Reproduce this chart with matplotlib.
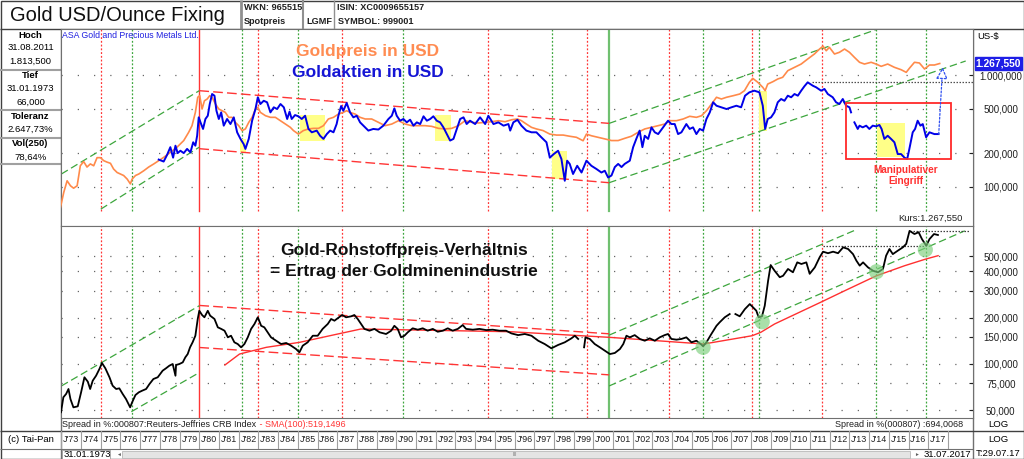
"""Gold USD/Ounce Fixing vs. ASA gold shares, plus gold/CRB ratio panel (Tai-Pan style)."""

import matplotlib
matplotlib.use("Agg")
import matplotlib.pyplot as plt
from matplotlib.patches import Rectangle
from matplotlib.ticker import NullLocator, NullFormatter

plt.rcParams["font.family"] = ["Liberation Sans", "DejaVu Sans"]

W, H = 1024, 459
NAN = float("nan")

# --------------------------------------------------------------------------- #
#  Data
# --------------------------------------------------------------------------- #
GOLD_YEAR = [
    1972.95, 1973.12, 1973.29, 1973.46, 1973.62, 1973.80, 1973.96, 1974.13, 1974.30, 1974.47,
    1974.64, 1974.81, 1974.98, 1975.15, 1975.32, 1975.49, 1975.65, 1975.83, 1975.99, 1976.16,
    1976.34, 1976.50, 1976.59, 1976.76, 1976.93, 1977.18, 1977.43, 1977.69, 1977.94, 1978.19,
    1978.53, 1978.87, 1979.21, 1979.46, 1979.63, 1979.80, 1979.92, 1980.02, 1980.14, 1980.26,
    1980.40, 1980.53, 1980.65, 1980.82, 1980.99, 1981.16, 1981.32, 1981.49, 1981.66, 1981.83,
    1982.00, 1982.17, 1982.34, 1982.51, 1982.68, 1982.85, 1982.97, 1983.10, 1983.36, 1983.61,
    1983.86, 1984.12, 1984.37, 1984.62, 1984.78, 1985.03, 1985.28, 1985.54, 1985.79, 1986.05,
    1986.30, 1986.55, 1986.81, 1987.06, 1987.31, 1987.48, 1987.65, 1987.91, 1988.16, 1988.42,
    1988.75, 1989.09, 1989.43, 1989.77, 1990.11, 1990.45, 1990.78, 1991.12, 1991.46, 1991.80,
    1992.14, 1992.48, 1992.81, 1993.15, 1993.49, 1993.83, 1994.17, 1994.51, 1994.84, 1995.18,
    1995.52, 1995.86, 1996.15, 1996.35, 1996.60, 1996.86, 1997.11, 1997.45, 1997.79, 1998.13,
    1998.47, 1998.80, 1999.14, 1999.48, 1999.65, 1999.90, 2000.24, 2000.58, 2000.92, 2001.26,
    2001.59, 2001.93, 2002.27, 2002.61, 2002.95, 2003.29, 2003.62, 2003.88, 2004.22, 2004.56,
    2004.89, 2005.23, 2005.49, 2005.74, 2006.00, 2006.25, 2006.50, 2006.76, 2007.10, 2007.43,
    2007.67, 2007.92, 2008.09, 2008.35, 2008.60, 2008.72, 2008.85, 2009.11, 2009.36, 2009.61,
    2009.87, 2010.21, 2010.55, 2010.88, 2011.22, 2011.48, 2011.66, 2011.82, 2011.98, 2012.24,
    2012.49, 2012.75, 2013.00, 2013.25, 2013.51, 2013.76, 2014.10, 2014.35, 2014.61, 2014.94,
    2015.28, 2015.62, 2015.88, 2016.04, 2016.30, 2016.55, 2016.81, 2017.06, 2017.31, 2017.58,
]
GOLD_USD = [
    65, 89, 113, 102, 97, 102, 154, 168, 150, 160,
    154, 182, 182, 171, 166, 162, 144, 134, 130, 126,
    117, 106, 117, 126, 130, 139, 150, 160, 171, 183,
    203, 226, 259, 307, 352, 463, 632, 653, 496, 588,
    610, 653, 632, 550, 496, 479, 463, 418, 418, 377,
    352, 318, 329, 377, 418, 496, 514, 463, 432, 418,
    418, 390, 364, 340, 318, 296, 318, 329, 333, 333,
    352, 404, 418, 447, 463, 479, 463, 447, 418, 404,
    404, 377, 352, 364, 390, 364, 352, 352, 352, 347,
    333, 329, 333, 352, 390, 377, 372, 377, 382, 390,
    382, 398, 404, 390, 364, 340, 329, 318, 296, 290,
    290, 283, 277, 258, 296, 286, 277, 268, 259, 259,
    271, 283, 307, 329, 340, 352, 364, 390, 390, 404,
    427, 418, 432, 479, 550, 632, 610, 632, 653, 676,
    724, 860, 934, 860, 776, 724, 830, 871, 921, 954,
    1094, 1172, 1254, 1391, 1542, 1708, 1813, 1650, 1770, 1542,
    1597, 1708, 1597, 1440, 1300, 1254, 1300, 1254, 1196, 1254,
    1172, 1116, 1057, 1148, 1300, 1281, 1132, 1229, 1229, 1267.55,
]

ASA_YEAR = [
    1977.94, 1978.19, 1978.36, 1978.53, 1978.67, 1978.79, 1978.90, 1979.04, 1979.21, 1979.38,
    1979.55, 1979.69, 1979.80, 1979.89, 1979.97, 1980.06, 1980.19, 1980.31, 1980.43, 1980.53,
    1980.65, 1980.77, 1980.87, 1980.99, 1981.11, 1981.24, 1981.41, 1981.58, 1981.75, 1981.92,
    1982.09, 1982.25, 1982.34, 1982.51, 1982.68, 1982.85, 1982.97, 1983.10, 1983.27, 1983.44,
    1983.61, 1983.78, 1983.95, 1984.12, 1984.29, 1984.46, 1984.58, 1984.69, 1984.86, 1985.03,
    1985.20, 1985.37, 1985.54, 1985.71, 1985.96, 1986.13, 1986.30, 1986.47, 1986.64, 1986.81,
    1986.97, 1987.06, 1987.20, 1987.31, 1987.48, 1987.65, 1987.82, 1987.99, 1988.16, 1988.33,
    1988.58, 1988.83, 1989.09, 1989.34, 1989.60, 1989.77, 1989.90, 1990.02, 1990.19, 1990.36,
    1990.53, 1990.70, 1990.87, 1991.04, 1991.21, 1991.38, 1991.55, 1991.72, 1991.88, 1992.05,
    1992.22, 1992.39, 1992.56, 1992.73, 1992.90, 1993.07, 1993.24, 1993.41, 1993.57, 1993.74,
    1994.00, 1994.25, 1994.51, 1994.67, 1994.93, 1995.18, 1995.44, 1995.69, 1995.78, 1995.94,
    1996.15, 1996.35, 1996.60, 1996.86, 1997.11, 1997.36, 1997.62, 1997.79, 1997.99, 1998.21,
    1998.38, 1998.55, 1998.67, 1998.80, 1998.97, 1999.18, 1999.40, 1999.65, 1999.90, 2000.16,
    2000.41, 2000.58, 2000.75, 2000.92, 2001.09, 2001.26, 2001.43, 2001.59, 2001.85, 2002.02,
    2002.18, 2002.35, 2002.49, 2002.61, 2002.78, 2002.95, 2003.12, 2003.29, 2003.54, 2003.79,
    2003.96, 2004.13, 2004.30, 2004.47, 2004.72, 2004.89, 2005.06, 2005.23, 2005.40, 2005.57,
    2005.74, 2005.91, 2006.08, 2006.25, 2006.50, 2006.76, 2007.01, 2007.26, 2007.50, 2007.70,
    2007.92, 2008.17, 2008.43, 2008.60, 2008.72, 2008.85, 2009.02, 2009.19, 2009.36, 2009.53,
    2009.70, 2009.87, 2010.04, 2010.21, 2010.38, 2010.55, 2010.71, 2010.88, 2011.14, 2011.31,
    2011.56, 2011.73, 2011.90, 2012.15, 2012.32, 2012.49, 2012.66, 2012.83, 2013.00, 2013.08,
    2013.16, 2013.25, 2013.42, 2013.51, 2013.67, 2013.85, 2014.01, 2014.18, 2014.35, 2014.52,
    2014.63, 2014.77, 2014.94, 2015.11, 2015.28, 2015.45, 2015.62, 2015.79, 2015.93, 2016.04,
    2016.21, 2016.33, 2016.46, 2016.60, 2016.72, 2016.89, 2017.06, 2017.31, 2017.52,
]
ASA_USD = [
    175, 168, 192, 226, 182, 233, 200, 210, 200, 218,
    203, 250, 233, 286, 418, 377, 329, 404, 432, 550,
    676, 653, 479, 404, 463, 352, 404, 364, 418, 307,
    268, 241, 218, 268, 390, 496, 632, 550, 588, 570,
    463, 514, 496, 550, 514, 404, 470, 404, 438, 427,
    404, 432, 329, 307, 318, 286, 268, 296, 318, 307,
    364, 432, 528, 479, 562, 463, 418, 432, 377, 352,
    318, 329, 325, 352, 404, 432, 503, 432, 390, 404,
    377, 398, 352, 377, 364, 427, 390, 404, 427, 390,
    377, 340, 296, 259, 268, 329, 404, 418, 364, 390,
    364, 418, 364, 432, 364, 377, 352, 364, 318, 377,
    397, 352, 318, 307, 307, 277, 250, 182, 196, 210,
    177, 113, 171, 160, 130, 154, 134, 171, 154, 144,
    134, 139, 121, 126, 150, 160, 150, 160, 171, 226,
    268, 318, 226, 286, 268, 340, 307, 296, 340, 390,
    364, 364, 296, 307, 364, 329, 340, 296, 329, 318,
    404, 463, 570, 531, 514, 496, 514, 531, 514, 653,
    700, 724, 700, 531, 329, 404, 418, 463, 570, 610,
    588, 653, 632, 676, 653, 724, 792, 860, 802, 776,
    724, 750, 676, 632, 570, 550, 610, 531, 514, 463,
    NAN, 377, 329, 352, 340, 352, 329, 352, 347, 357,
    329, 268, 286, 268, 250, 196, 196, 182, 177, 218,
    307, 329, 390, 352, 364, 277, 307, 296, 296,
]
LAST_PRICE = 1267.55

RATIO_YEAR = [
    1972.98, 1973.10, 1973.24, 1973.36, 1973.46, 1973.61, 1973.83, 1974.00, 1974.17, 1974.34,
    1974.46, 1974.59, 1974.76, 1974.93, 1975.06, 1975.23, 1975.44, 1975.60, 1975.78, 1975.94,
    1976.11, 1976.28, 1976.49, 1976.59, 1976.76, 1976.93, 1977.10, 1977.30, 1977.47, 1977.67,
    1977.89, 1978.14, 1978.31, 1978.48, 1978.65, 1978.79, 1978.82, 1978.99, 1979.16, 1979.29,
    1979.41, 1979.53, 1979.66, 1979.80, 1979.92, 1980.00, 1980.14, 1980.26, 1980.43, 1980.55,
    1980.77, 1980.94, 1981.11, 1981.28, 1981.45, 1981.61, 1981.78, 1981.95, 1982.12, 1982.29,
    1982.46, 1982.63, 1982.80, 1982.97, 1983.14, 1983.30, 1983.47, 1983.64, 1983.90, 1984.15,
    1984.41, 1984.66, 1984.91, 1985.08, 1985.25, 1985.50, 1985.76, 1986.01, 1986.26, 1986.52,
    1986.69, 1986.86, 1987.02, 1987.25, 1987.45, 1987.71, 1987.87, 1988.04, 1988.21, 1988.38,
    1988.64, 1988.89, 1989.15, 1989.48, 1989.74, 1989.90, 1990.07, 1990.24, 1990.41, 1990.58,
    1990.83, 1991.09, 1991.34, 1991.59, 1991.85, 1992.10, 1992.36, 1992.61, 1992.86, 1993.12,
    1993.37, 1993.54, 1993.88, 1994.22, 1994.56, 1994.89, 1995.23, 1995.57, 1995.84, 1996.18,
    1996.52, 1996.86, 1997.20, 1997.53, 1997.87, 1998.21, 1998.55, 1998.89, 1999.06, 1999.23,
    1999.38, 1999.53, 1999.60, 1999.82, 2000.07, 2000.33, 2000.58, 2000.84, 2001.09, 2001.35,
    2001.52, 2001.68, 2001.85, 2002.10, 2002.36, 2002.61, 2002.86, 2003.12, 2003.37, 2003.62,
    2003.79, 2003.96, 2004.22, 2004.47, 2004.72, 2004.98, 2005.23, 2005.45, 2005.57, 2005.74,
    2005.99, 2006.25, 2006.41, 2006.67, 2006.92, 2007.05, 2007.21, 2007.43, 2007.69, 2007.94,
    2008.11, 2008.27, 2008.39, 2008.56, 2008.70, 2008.87, 2009.00, 2009.20, 2009.46, 2009.63,
    2009.88, 2010.13, 2010.35, 2010.56, 2010.81, 2010.98, 2011.24, 2011.49, 2011.66, 2011.91,
    2012.17, 2012.42, 2012.68, 2012.93, 2013.18, 2013.35, 2013.52, 2013.69, 2013.94, 2014.20,
    2014.45, 2014.70, 2014.86, 2015.03, 2015.20, 2015.46, 2015.71, 2015.88, 2016.05, 2016.30,
    2016.51, 2016.68, 2016.90, 2017.06, 2017.29, 2017.49,
]
RATIO = [
    48.6, 60.8, 63.9, 68.8, 59.2, 52.3, 53.1, 65.5, 82.0, 76.8,
    68.8, 77.9, 83.9, 92.8, 101.5, 93.8, 82.0, 72.3, 68.8, 69.5,
    63.9, 59.2, 52.3, 56.4, 62.9, 65.5, 67.1, 68.8, 74.1, 79.9,
    82.0, 90.5, 93.8, 97.5, 100, 83.9, 98.5, 100, 102.5, 110.5,
    116, 128.3, 138.3, 152.6, 196, 221.6, 208, 201, 221.6, 206,
    196, 173, 169, 164.5, 149, 152.6, 138.3, 134.8, 128.3, 134.8,
    149, 169, 181.9, 201, 177, 173, 160.6, 149, 141.6, 134.8,
    136.9, 131.5, 125.1, 119, 131.5, 138.3, 152.6, 152.6, 169, 181.9,
    196, 191, 198, 208, 201, 204, 208, 196, 181.9, 169,
    164.5, 169, 160.6, 156.6, 164.5, 177, 169, 149, 152.6, 160.6,
    170.5, 167, 170.5, 164.5, 169, 162, 164.5, 170.5, 164.5, 169,
    179, 169, 167, 169, 166, 167, 164.5, 164.5, 158, 154,
    156.6, 152.6, 141.6, 134.8, 126.4, 132.9, 138.3, 146.8, 152.6, 145.4,
    NAN, 128.3, 149, 145.4, 134.8, 128.3, 122, 116, 117.9, 125.1,
    134.8, 152.6, 149, 154, 145.4, 141.6, 146.8, 141.6, 149, 154,
    156.6, 145.4, 143.9, 145.4, 149, 138.3, 141.6, 134.8, 130.3, 138.3,
    156.6, 177, 186.4, 201, 211, NAN, 211, 204, 227, 245,
    233, 222, 201, 204, 239, 347, 439, 403, 366, 374,
    414, 394, 457, 446, 457, 385, 424, 494, 536, 524,
    536, 524, 572, 558, 517, 469, 435, 457, 424, 403,
    394, 414, 505, 558, 517, 545, 572, 602, 732, 698,
    717, 647, 585, 647, 698, 688,
]
LAST_RATIO = 694.0068
SMA_LAST = 519.1496

SMA_YEAR = [1981.3, 1982.04, 1983.4, 1985.1, 1986.77, 1988.2, 1995.8, 2000.8, 2005.6,
            2008.06, 2008.5, 2009.2, 2011.6, 2012.76, 2014.37, 2015.8, 2016.87, 2017.5]
SMA = [98.5, 116, 128.3, 138.3, 154, 168.7, 162, 149, 134.8,
       152.6, 160.6, 181.9, 253.8, 299, 374, 434.6, 480, 505]

# trend channels: (years, values)
UP_RED_CHANNEL = [([1980.0, 2000.8], [724, 369]), ([1980.0, 2000.8], [219, 108.6])]
UP_GREEN_CHANNEL = [([1973.0, 1980.0], [130, 724]), ([1975.0, 1980.0], [63, 226]),
                    ([2000.8, 2014.4], [369, 2564]), ([2000.8, 2018.9], [108.6, 1335])]
LO_RED_CHANNEL = [([1980.0, 2000.8], [240, 157]), ([1980.0, 2000.8], [128, 85])]
LO_GREEN_CHANNEL = [([1973.0, 1980.0], [72, 239]), ([1976.55, 1980.0], [49, 88]),
                    ([2000.8, 2013.4], [154, 750]), ([2000.8, 2018.85], [72, 732])]

# highlighted zones: (year from, year to, value low, value high)
YELLOW_ZONES = [(1982.09, 1982.36, 203, 268), (1985.12, 1986.39, 256, 438),
                (1991.97, 1992.78, 258, 438), (1997.92, 1998.67, 117, 210),
                (2008.43, 2008.82, 318, 724), (2014.41, 2015.83, 183, 369)]
MANIP_BOX = (2012.83, 2018.16, 177, 562)
ARROW_YEAR = [2017.53, 2017.73]
ARROW_VAL = [296, 1172]
UP_DOTTED = ([2011.09, 2019.27], [860, 860])
LO_DOTTED = [([2011.65, 2016.85], [581, 581]), ([2016.09, 2019.06], [732, 732])]
CIRCLE_YEAR = [2005.57, 2008.57, 2014.37, 2016.85]
CIRCLE_VAL = [128.3, 188, 397.5, 552]

VLINES_RED_DOT = [1975.0, 1982.97, 1987.25, 1994.67, 1999.68, 2003.83, 2008.06, 2011.61]
VLINES_GREEN_DOT = [1976.57, 1982.15, 1985.03, 1990.33, 1997.9, 2005.59, 2008.4, 2014.37, 2016.87]
VLINE_RED_SOLID = 1979.97
VLINE_GREEN_SOLID = 2000.8

UP_TICKS = [100, 200, 500, 1000]
UP_TICK_LABELS = ["100,000", "200,000", "500,000", "1.000,000"]
LO_TICKS = [50, 75, 100, 150, 200, 300, 400, 500]
LO_TICK_LABELS = ["50,000", "75,000", "100,000", "150,000", "200,000",
                  "300,000", "400,000", "500,000"]
YEARS = list(range(1973, 2018))

INFO = [("Hoch", "31.08.2011", "1.813,500"), ("Tief", "31.01.1973", "66,000"),
        ("Toleranz", "2.647,73%", None), ("Vol(250)", "78,64%", None)]

X_LIM = (1972.98, 2019.27)
UP_YLIM = (44.5, 2582)
LO_YLIM = (44.6, 787)

ORANGE = "#FF8A4A"
BLUE = "#0000E8"
RED = "#FF3535"
GREEN = "#3DA63D"
FRAME = "#707070"


# --------------------------------------------------------------------------- #
#  Helpers
# --------------------------------------------------------------------------- #
def px_axes(fig, x0, y0, x1, y1, **kw):
    return fig.add_axes([x0 / W, 1 - y1 / H, (x1 - x0) / W, (y1 - y0) / H], **kw)


def setup_price_axis(ax, ylim, ticks, labels):
    ax.set_yscale("log")
    ax.set_xlim(*X_LIM)
    ax.set_ylim(*ylim)
    ax.set_xticks([])
    ax.yaxis.tick_right()
    ax.set_yticks(ticks)
    ax.set_yticklabels(labels)
    ax.yaxis.set_minor_locator(NullLocator())
    ax.yaxis.set_minor_formatter(NullFormatter())
    ax.tick_params(axis="y", direction="in", length=3, pad=20,
                   labelsize=7, colors="#202020")
    plt.setp(ax.get_yticklabels(), ha="center")
    for s in ax.spines.values():
        s.set_color(FRAME)
        s.set_linewidth(0.8)
    for v in ticks:
        ax.axhline(v, ls=(0, (1, 12)), color="#666666", lw=0.9, zorder=0.5)


def draw_vlines(ax, ymin):
    for yr in VLINES_RED_DOT:
        ax.axvline(yr, ymin=ymin, color=RED, ls=(0, (1.5, 1.5)), lw=0.9, zorder=1)
    for yr in VLINES_GREEN_DOT:
        ax.axvline(yr, ymin=ymin, color=GREEN, ls=(0, (1.5, 1.5)), lw=0.9, zorder=1)
    ax.axvline(VLINE_RED_SOLID, ymin=ymin, color=RED, lw=1.0, zorder=1)
    ax.axvline(VLINE_GREEN_SOLID, ymin=ymin, color="#70C070", lw=1.6, zorder=1)


def draw_channels(ax, red, green):
    for xs, ys in red:
        ax.plot(xs, ys, color=RED, ls=(0, (7, 3)), lw=1.0, zorder=2)
    for xs, ys in green:
        ax.plot(xs, ys, color=GREEN, ls=(0, (6, 3)), lw=0.9, zorder=2)


def line(ch, x0, y0, x1, y1, color=FRAME, lw=0.8):
    ch.plot([x0, x1], [y0, y1], color=color, lw=lw, solid_capstyle="butt")


# --------------------------------------------------------------------------- #
#  Chrome (header, info column, footer)
# --------------------------------------------------------------------------- #
def draw_chrome(ch):
    ch.set_xlim(0, W)
    ch.set_ylim(H, 0)
    ch.axis("off")

    # header
    ch.text(10, 15.5, "Gold USD/Ounce Fixing", fontsize=14.5, va="center", color="#101010")
    kw = dict(fontsize=6.6, fontweight="bold", va="center", color="#202020")
    ch.text(244, 7, "WKN: 965515", **kw)
    ch.text(244, 21, "Spotpreis", **kw)
    ch.text(306, 21, "LGMF", **kw)
    ch.text(337, 7, "ISIN: XC0009655157", **kw)
    ch.text(338, 21, "SYMBOL: 999001", **kw)
    line(ch, 0, 29, W, 29, "#404040", 1.0)
    line(ch, 241, 0, 241, 29, "#909090", 2.0)
    line(ch, 302.5, 0, 302.5, 29, "#909090", 1.5)
    line(ch, 333.5, 0, 333.5, 29, "#909090", 1.0)
    ch.add_patch(Rectangle((0.5, 0.5), W - 1, H - 1, fill=False, ec="#404040", lw=1.0))

    # info column
    rows = [35, 75.5, 116.5, 144]
    for (head, l1, l2), y in zip(INFO, rows):
        ch.text(30.5, y, head, fontsize=6.8, fontweight="bold", ha="center", va="center")
        ch.text(30.5, y + 13, l1, fontsize=6.8, ha="center", va="center")
        if l2:
            ch.text(30.5, y + 26.5, l2, fontsize=6.8, ha="center", va="center")
    for y in (70, 109.5, 137.5, 164):
        line(ch, 0, y, 61, y, "#A0A0A0", 1.5)
    line(ch, 61, 29, 61, H, FRAME, 1.0)
    line(ch, 973, 29, 973, H, FRAME, 1.0)

    # footer rows
    line(ch, 0, 431, W, 431, "#404040", 1.0)
    line(ch, 0, 449, 973, 449, FRAME, 0.8)
    ch.text(30.5, 439.5, "(c) Tai-Pan", fontsize=6.8, ha="center", va="center")
    ch.text(998.5, 424.5, "LOG", fontsize=6.8, ha="center", va="center")
    ch.text(998.5, 439, "LOG", fontsize=6.8, ha="center", va="center")
    ch.text(998.5, 453, "T:29.07.17", fontsize=6.8, ha="center", va="center")
    ch.add_patch(Rectangle((62, 450), 48, 8.5, fc="white", ec="#A0A0A0", lw=0.6))
    ch.text(64, 454.5, "31.01.1973", fontsize=6.8, va="center")
    ch.text(116, 454.5, "\u25c4", fontsize=3.5, va="center", color="#606060")
    ch.add_patch(Rectangle((122, 450.5), 788, 7.5, fc="#E4E4E4", ec="#B8B8B8", lw=0.6))
    ch.text(515, 454.5, "III", fontsize=4, va="center", ha="center", color="#808080")
    ch.text(914, 454.5, "\u25ba", fontsize=3.5, va="center", color="#606060")
    ch.text(971.5, 454.5, "31.07.2017", fontsize=6.8, va="center", ha="right")

    # spread captions under the ratio panel
    t = ch.text(62.5, 424.5, "Spread in %:000807:Reuters-Jeffries CRB Index",
                fontsize=6.5, va="center", color="#202020")
    ch.annotate(f" - SMA(100):{SMA_LAST:.4f}".replace(".", ","), xy=(1, 0.5),
                xycoords=t, va="center", fontsize=6.5, color=RED)
    ch.text(963, 424.5, f"Spread in %(000807) :{LAST_RATIO:.4f}".replace(".", ","),
            fontsize=6.5, va="center", ha="right", color="#202020")
    ch.add_patch(Rectangle((963.5, 226.5), 8.5, 8.5, fc="white", ec="#303030", lw=0.7, zorder=5))
    ch.text(967.8, 230.8, "\u00d7", fontsize=6.5, ha="center", va="center", zorder=6)


# --------------------------------------------------------------------------- #
#  Panels
# --------------------------------------------------------------------------- #
def draw_upper(ax):
    setup_price_axis(ax, UP_YLIM, UP_TICKS, UP_TICK_LABELS)
    draw_vlines(ax, ymin=0.076)
    draw_channels(ax, UP_RED_CHANNEL, UP_GREEN_CHANNEL)

    for x0, x1, lo, hi in YELLOW_ZONES:
        ax.add_patch(Rectangle((x0, lo), x1 - x0, hi - lo, fc="#FFFF88", ec="none", zorder=1.5))
    x0, x1, lo, hi = MANIP_BOX
    ax.add_patch(Rectangle((x0, lo), x1 - x0, hi - lo, fill=False, ec="#FF2A2A", lw=1.3, zorder=4))

    ax.plot(GOLD_YEAR, GOLD_USD, color=ORANGE, lw=1.2, zorder=3)
    ax.plot(ASA_YEAR, ASA_USD, color=BLUE, lw=1.4, zorder=3.5)
    ax.plot(*UP_DOTTED, color="#505050", ls=(0, (1.2, 1.2)), lw=0.9, zorder=2)
    ax.annotate("", xy=(ARROW_YEAR[1], ARROW_VAL[1]), xytext=(ARROW_YEAR[0], ARROW_VAL[0]),
                arrowprops=dict(arrowstyle="-|>,head_length=0.7,head_width=0.35",
                                ec="#3050F0", fc="white", lw=0.9, ls=(0, (1.5, 1.5)),
                                shrinkA=0, shrinkB=0), zorder=4)

    ax.text(0.0015, 0.992, "ASA Gold and Precious Metals Ltd.", transform=ax.transAxes,
            fontsize=6.3, color="#2020E0", va="top")
    ax.text(0.336, 0.885, "Goldpreis in USD", transform=ax.transAxes, fontsize=12.5,
            fontweight="bold", color="#FF8C52", ha="center", va="center")
    ax.text(0.336, 0.780, "Goldaktien in USD", transform=ax.transAxes, fontsize=12.5,
            fontweight="bold", color="#1515D5", ha="center", va="center")
    ax.text(2015.84, 127, "Manipulativer\nEingriff", fontsize=7.2, fontweight="bold",
            color="#FF3030", ha="center", va="center", linespacing=1.15)
    ax.text(0.989, 0.041, "Kurs:" + f"{LAST_PRICE:,.3f}".replace(",", "X")
            .replace(".", ",").replace("X", "."), transform=ax.transAxes,
            fontsize=6.8, ha="right", va="center", color="#202020")
    ax.text(1.0045, 0.964, "US-$", transform=ax.transAxes, fontsize=6.8, va="center")
    ax.text(1.003, LAST_PRICE, f"{LAST_PRICE:,.3f}".replace(",", "X").replace(".", ",")
            .replace("X", "."), transform=ax.get_yaxis_transform(), fontsize=7.4,
            fontweight="bold", color="white", va="center", ha="left",
            bbox=dict(boxstyle="square,pad=0.12", fc="#1E1EE6", ec="#1E1EE6"), zorder=6)


def draw_lower(ax):
    setup_price_axis(ax, LO_YLIM, LO_TICKS, LO_TICK_LABELS)
    draw_vlines(ax, ymin=0.0)
    draw_channels(ax, LO_RED_CHANNEL, LO_GREEN_CHANNEL)
    ax.plot(SMA_YEAR, SMA, color="#FF3030", lw=1.0, zorder=2.5)
    ax.plot(RATIO_YEAR, RATIO, color="black", lw=1.3, zorder=3)
    for xs, ys in LO_DOTTED:
        ax.plot(xs, ys, color="#404040", ls=(0, (1.2, 1.2)), lw=0.9, zorder=2)
    ax.scatter(CIRCLE_YEAR, CIRCLE_VAL, s=120, color="#7CCF7C", alpha=0.65,
               edgecolors="none", zorder=4)
    ax.text(0.376, 0.871, "Gold-Rohstoffpreis-Verh\u00e4ltnis", transform=ax.transAxes,
            fontsize=12.5, fontweight="bold", ha="center", va="center", color="#101010")
    ax.text(0.376, 0.762, "= Ertrag der Goldminenindustrie", transform=ax.transAxes,
            fontsize=12.5, fontweight="bold", ha="center", va="center", color="#101010")


def draw_timeline(ax):
    ax.set_xlim(*X_LIM)
    ax.set_ylim(0, 1)
    ax.axis("off")
    for yr in YEARS + [YEARS[-1] + 1]:
        ax.axvline(yr, color="#A0A0A0", lw=0.8)
    for yr in YEARS:
        ax.text(yr + 0.5, 0.5, f"J'{yr % 100:02d}", fontsize=6.4, ha="center",
                va="center", color="#202020")


# --------------------------------------------------------------------------- #
#  Main
# --------------------------------------------------------------------------- #
def main():
    fig = plt.figure(figsize=(W / 100, H / 100), dpi=100)
    ch = fig.add_axes([0, 0, 1, 1])
    draw_chrome(ch)

    ax_up = px_axes(fig, 61, 29, 973, 226)
    ax_lo = px_axes(fig, 61, 226, 973, 418)
    ax_t = px_axes(fig, 61, 431, 973, 449)
    draw_upper(ax_up)
    draw_lower(ax_lo)
    draw_timeline(ax_t)

    fig.savefig("out.png", dpi=100)
    plt.close(fig)


if __name__ == "__main__":
    main()
